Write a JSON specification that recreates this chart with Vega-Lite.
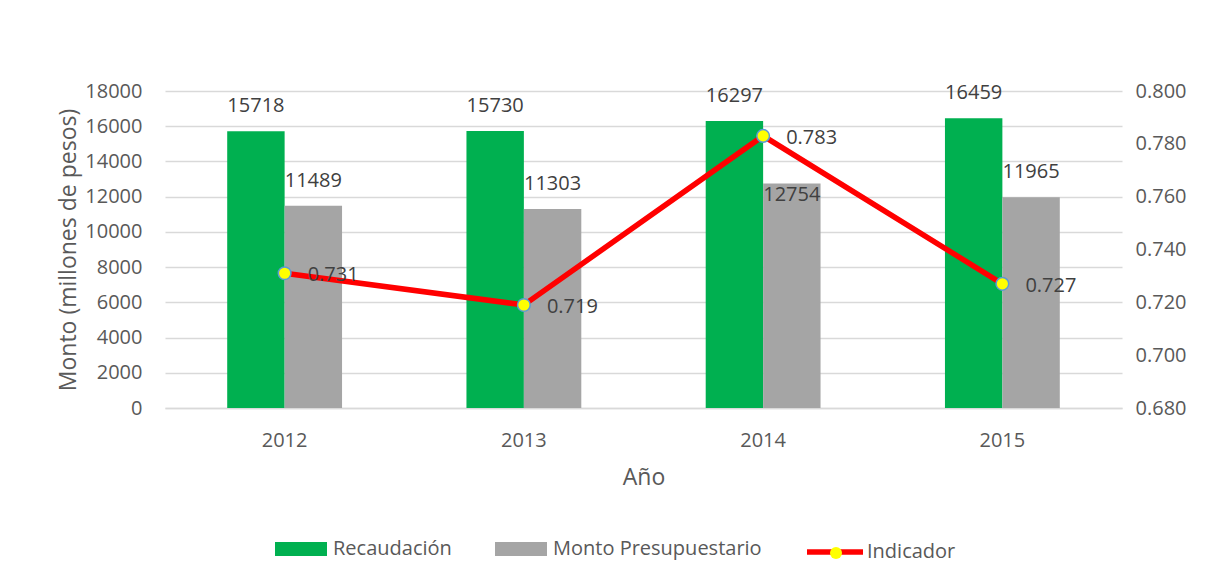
{
  "$schema": "https://vega.github.io/schema/vega-lite/v6.json",
  "width": 957,
  "height": 317,
  "autosize": {"type": "none"},
  "padding": {"left": 165, "top": 91, "right": 96, "bottom": 178},
  "background": "white",
  "config": {
    "view": {"stroke": null},
    "font": "Open Sans",
    "axis": {
      "labelFont": "Open Sans",
      "titleFont": "Open Sans",
      "labelColor": "#595959",
      "titleColor": "#595959",
      "labelFontSize": 20,
      "titleFontSize": 23,
      "titleFontWeight": "normal"
    },
    "legend": {
      "labelFont": "Open Sans",
      "labelFontSize": 20,
      "labelColor": "#595959",
      "labelLimit": 400,
      "padding": 0
    }
  },
  "data": {
    "values": [
      {"Año": "2012", "Recaudación": 15718, "Monto Presupuestario": 11489, "Indicador": 0.731},
      {"Año": "2013", "Recaudación": 15730, "Monto Presupuestario": 11303, "Indicador": 0.719},
      {"Año": "2014", "Recaudación": 16297, "Monto Presupuestario": 12754, "Indicador": 0.783},
      {"Año": "2015", "Recaudación": 16459, "Monto Presupuestario": 11965, "Indicador": 0.727}
    ]
  },
  "encoding": {
    "x": {
      "field": "Año",
      "type": "nominal",
      "scale": {"paddingInner": 0.52, "paddingOuter": 0.26},
      "axis": {
        "title": "Año",
        "labelAngle": 0,
        "labelPadding": 22,
        "titlePadding": 16,
        "ticks": false,
        "domain": true,
        "domainColor": "#d9d9d9",
        "domainWidth": 1.5
      }
    }
  },
  "layer": [
    {
      "transform": [
        {"fold": ["Recaudación", "Monto Presupuestario"], "as": ["Serie", "Valor"]}
      ],
      "encoding": {
        "xOffset": {
          "field": "Serie",
          "type": "nominal",
          "scale": {"domain": ["Recaudación", "Monto Presupuestario"], "paddingInner": 0}
        },
        "y": {
          "field": "Valor",
          "type": "quantitative",
          "scale": {"domain": [0, 18000], "nice": false},
          "axis": {
            "title": "Monto (millones de pesos)",
            "values": [0, 2000, 4000, 6000, 8000, 10000, 12000, 14000, 16000, 18000],
            "format": "d",
            "grid": true,
            "gridColor": "#d9d9d9",
            "gridWidth": 1.5,
            "domain": false,
            "ticks": false,
            "labelPadding": 23,
            "titlePadding": 4
          }
        }
      },
      "layer": [
        {
          "mark": {"type": "bar"},
          "encoding": {
            "color": {
              "field": "Serie",
              "type": "nominal",
              "scale": {
                "domain": ["Recaudación", "Monto Presupuestario"],
                "range": ["#00b050", "#a5a5a5"]
              },
              "legend": {
                "orient": "none",
                "legendX": 110,
                "legendY": 432,
                "direction": "horizontal",
                "title": null,
                "symbolType": "M-1,-0.27L1,-0.27L1,0.27L-1,0.27Z",
                "symbolSize": 2704,
                "symbolStrokeWidth": 0,
                "labelOffset": 6,
                "columnPadding": 43
              }
            }
          }
        },
        {
          "transform": [
            {"filter": "!(datum['Año'] == '2014' && datum.Serie == 'Monto Presupuestario')"}
          ],
          "mark": {"type": "text", "dy": -25, "fontSize": 20, "color": "#404040", "baseline": "middle"},
          "encoding": {"text": {"field": "Valor", "type": "quantitative", "format": "d"}}
        },
        {
          "transform": [
            {"filter": "datum['Año'] == '2014' && datum.Serie == 'Monto Presupuestario'"}
          ],
          "mark": {"type": "text", "dy": 12, "fontSize": 20, "color": "#404040", "baseline": "middle"},
          "encoding": {"text": {"field": "Valor", "type": "quantitative", "format": "d"}}
        }
      ]
    },
    {
      "encoding": {
        "y": {
          "field": "Indicador",
          "type": "quantitative",
          "scale": {"domain": [0.68, 0.8], "nice": false, "zero": false},
          "axis": {
            "orient": "right",
            "title": null,
            "values": [0.68, 0.7, 0.72, 0.74, 0.76, 0.78, 0.8],
            "format": ".3f",
            "grid": false,
            "domain": false,
            "ticks": false,
            "labelPadding": 13
          }
        }
      },
      "layer": [
        {
          "mark": {"type": "line", "strokeWidth": 5.5},
          "encoding": {
            "stroke": {
              "datum": "Indicador",
              "scale": {"range": ["#ff0000"]},
              "legend": {
                "orient": "none",
                "legendX": 639,
                "legendY": 430,
                "title": null,
                "symbolType": "stroke",
                "symbolSize": 3136,
                "symbolStrokeWidth": 5.5,
                "labelOffset": 1
              }
            }
          }
        },
        {
          "mark": {"type": "point", "filled": true, "size": 160, "fill": "#ffff00", "stroke": "#5b9bd5", "strokeWidth": 1.5, "opacity": 1},
          "encoding": {
            "shape": {
              "datum": "marcador",
              "scale": {"range": ["circle"]},
              "legend": {
                "orient": "none",
                "legendX": 661,
                "legendY": 452,
                "title": null,
                "symbolSize": 144,
                "symbolFillColor": "#ffff00",
                "symbolStrokeColor": "#5b9bd5",
                "symbolStrokeWidth": 1.5,
                "symbolOpacity": 1,
                "labelExpr": "''",
                "zindex": 5
              }
            }
          }
        },
        {
          "mark": {"type": "text", "align": "left", "baseline": "middle", "dx": 23, "dy": 2, "fontSize": 20, "color": "#404040"},
          "encoding": {"text": {"field": "Indicador", "type": "quantitative", "format": ".3f"}}
        }
      ]
    }
  ],
  "resolve": {"scale": {"y": "independent"}}
}
